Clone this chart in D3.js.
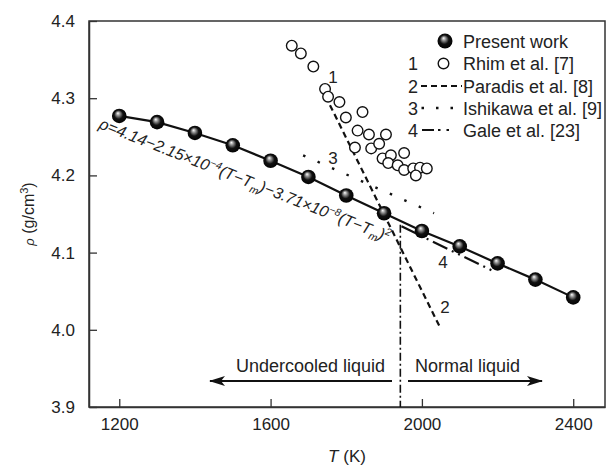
<!DOCTYPE html>
<html>
<head>
<meta charset="utf-8">
<script src="https://cdn.jsdelivr.net/npm/d3@7"></script>
<style>
  body { margin: 0; background: #fff; }
  svg text { font-family: "Liberation Sans", Arial, sans-serif; fill: #222; }
</style>
</head>
<body>
<div id="chart"></div>
<script>
// data
var presentT = [1200, 1300, 1400, 1500, 1600, 1700, 1800, 1900, 2000, 2100, 2200, 2300, 2400];
var presentRho = [4.277, 4.269, 4.255, 4.239, 4.219, 4.198, 4.174, 4.151, 4.128, 4.108, 4.086, 4.065, 4.042];

var rhimT = [1656, 1680, 1713, 1744, 1752, 1782, 1799, 1843, 1830, 1823, 1860, 1905, 1866, 1887,
             1896, 1918, 1953, 1911, 1936, 1953, 1977, 1995, 2013, 1984];
var rhimRho = [4.368, 4.358, 4.341, 4.312, 4.302, 4.295, 4.275, 4.282, 4.258, 4.236, 4.253, 4.253, 4.235, 4.241,
               4.222, 4.226, 4.229, 4.216, 4.213, 4.207, 4.209, 4.210, 4.209, 4.200];

var paradisT = [1757, 2047];
var paradisRho = [4.291, 4.004];
var ishikawaT = [1686, 2032];
var ishikawaRho = [4.226, 4.151];
var galeT = [1946, 2193];
var galeRho = [4.134, 4.075];
var meltT = [1943, 1943];
var meltRho = [4.136, 3.9];

var xTicks = [1200, 1600, 2000, 2400];
var yTicks = [3.9, 4.0, 4.1, 4.2, 4.3, 4.4];

var legendNames = ["Present work", "Rhim et al. [7]", "Paradis et al. [8]", "Ishikawa et al. [9]", "Gale et al. [23]"];
var legendNums = ["", "1", "2", "3", "4"];

var full_w = 609, full_h = 466;
var margin = {top: 21, right: 4, bottom: 59, left: 89};
var width = full_w - margin.left - margin.right;
var height = full_h - margin.top - margin.bottom;

var svg = d3.select("#chart").append("svg")
    .attr("width", full_w)
    .attr("height", full_h);

var defs = svg.append("defs");
var grad = defs.append("radialGradient")
    .attr("id", "ball")
    .attr("cx", "50%").attr("cy", "50%").attr("r", "55%")
    .attr("fx", "40%").attr("fy", "30%");
grad.append("stop").attr("offset", "0%").attr("stop-color", "#fff");
grad.append("stop").attr("offset", "22%").attr("stop-color", "#999");
grad.append("stop").attr("offset", "55%").attr("stop-color", "#111");
grad.append("stop").attr("offset", "100%").attr("stop-color", "#000");

defs.append("marker")
    .attr("id", "arrow")
    .attr("viewBox", "0 0 16 10")
    .attr("refX", 15).attr("refY", 5)
    .attr("markerWidth", 16).attr("markerHeight", 10)
    .attr("markerUnits", "userSpaceOnUse")
    .attr("orient", "auto")
    .append("path")
    .attr("d", "M0,0 L16,5 L0,10 L4,5 Z")
    .attr("fill", "#111");

var g = svg.append("g")
    .attr("transform", "translate(" + margin.left + "," + margin.top + ")");

var x = d3.scaleLinear().domain([1120, 2484]).range([0, width]);
var y = d3.scaleLinear().domain([3.9, 4.4]).range([height, 0]);

// frame
g.append("rect")
    .attr("width", width).attr("height", height)
    .attr("fill", "none").attr("stroke", "#333").attr("stroke-width", 1.5);

var xAxis = g.append("g")
    .attr("transform", "translate(0," + height + ")")
    .call(d3.axisBottom(x).tickValues(xTicks).tickFormat(d3.format("d"))
          .tickSizeInner(-8).tickSizeOuter(0).tickPadding(11));
var yAxis = g.append("g")
    .call(d3.axisLeft(y).tickValues(yTicks).tickFormat(d3.format(".1f"))
          .tickSizeInner(-8).tickSizeOuter(0).tickPadding(14));
[xAxis, yAxis].forEach(function(a) {
  a.select(".domain").attr("stroke", "#333").attr("stroke-width", 1.5);
  a.selectAll(".tick line").attr("stroke", "#333").attr("stroke-width", 1.3);
  a.selectAll(".tick text").attr("font-size", 17).attr("fill", "#222")
    .attr("font-family", "Liberation Sans, Arial, sans-serif");
});

// axis titles
g.append("text")
    .attr("x", width / 2).attr("y", height + 55)
    .attr("text-anchor", "middle").attr("font-size", 17)
    .html('<tspan font-style="italic">T</tspan> (K)');
g.append("text")
    .attr("transform", "translate(" + (-55) + "," + (height / 2) + ") rotate(-90)")
    .attr("text-anchor", "middle").attr("font-size", 16)
    .html('<tspan font-style="italic" font-size="13">ρ</tspan> (g/cm<tspan dy="-6" font-size="11">3</tspan><tspan dy="6">)</tspan>');

function pts(ts, rs) { return ts.map(function(t, i) { return [t, rs[i]]; }); }
var line = d3.line().x(function(d) { return x(d[0]); }).y(function(d) { return y(d[1]); });

// melting point (dash-dot vertical)
g.append("path").datum(pts(meltT, meltRho)).attr("d", line)
    .attr("fill", "none").attr("stroke", "#111").attr("stroke-width", 1.6)
    .attr("stroke-dasharray", "8,3,2,3");

// Paradis
g.append("path").datum(pts(paradisT, paradisRho)).attr("d", line)
    .attr("fill", "none").attr("stroke", "#111").attr("stroke-width", 2.2)
    .attr("stroke-dasharray", "6,4");
// Ishikawa
g.append("path").datum(pts(ishikawaT, ishikawaRho)).attr("d", line)
    .attr("fill", "none").attr("stroke", "#111").attr("stroke-width", 2.4)
    .attr("stroke-dasharray", "2.5,13.3");
// Gale
g.append("path").datum(pts(galeT, galeRho)).attr("d", line)
    .attr("fill", "none").attr("stroke", "#111").attr("stroke-width", 2.2)
    .attr("stroke-dasharray", "16,5,2,5,2,5");

// Rhim open circles
g.selectAll(".rhim").data(pts(rhimT, rhimRho)).enter().append("circle")
    .attr("class", "rhim")
    .attr("cx", function(d) { return x(d[0]); })
    .attr("cy", function(d) { return y(d[1]); })
    .attr("r", 5.3)
    .attr("fill", "#fff").attr("stroke", "#111").attr("stroke-width", 1.4);

// Present work
g.append("path").datum(pts(presentT, presentRho)).attr("d", line)
    .attr("fill", "none").attr("stroke", "#111").attr("stroke-width", 2.2);
g.selectAll(".present").data(pts(presentT, presentRho)).enter().append("circle")
    .attr("class", "present")
    .attr("cx", function(d) { return x(d[0]); })
    .attr("cy", function(d) { return y(d[1]); })
    .attr("r", 7.3)
    .attr("fill", "url(#ball)");

// line labels
var lineLabels = [["1", 333, 83], ["2", 445, 313], ["3", 333, 164], ["4", 443, 268]];
lineLabels.forEach(function(l) {
  svg.append("text").attr("x", l[1]).attr("y", l[2])
      .attr("text-anchor", "middle").attr("font-size", 17).text(l[0]);
});

// fitted equation
svg.append("text")
    .attr("transform", "translate(98,128) rotate(21.5)")
    .attr("font-size", 16).attr("font-style", "italic").attr("fill", "#333")
    .html('ρ=4.14−2.15×10<tspan dy="-6" font-size="10.5">−4</tspan><tspan dy="6">(T−T</tspan>' +
          '<tspan dy="4" font-size="10.5">m</tspan><tspan dy="-4">)−3.71×10</tspan>' +
          '<tspan dy="-6" font-size="10.5">−8</tspan><tspan dy="6">(T−T</tspan>' +
          '<tspan dy="4" font-size="10.5">m</tspan><tspan dy="-4">)</tspan>' +
          '<tspan dy="-6" font-size="10.5">2</tspan>');

// undercooled / normal arrows
svg.append("line").attr("x1", 392).attr("y1", 381).attr("x2", 210).attr("y2", 381)
    .attr("stroke", "#111").attr("stroke-width", 2.2).attr("marker-end", "url(#arrow)");
svg.append("line").attr("x1", 408).attr("y1", 381).attr("x2", 542).attr("y2", 381)
    .attr("stroke", "#111").attr("stroke-width", 2.2).attr("marker-end", "url(#arrow)");
svg.append("text").attr("x", 385).attr("y", 372).attr("text-anchor", "end")
    .attr("font-size", 18).text("Undercooled liquid");
svg.append("text").attr("x", 415).attr("y", 372)
    .attr("font-size", 18).text("Normal liquid");

// legend
var lg = svg.append("g").attr("transform", "translate(0,0)");
var rowY = [41, 63.5, 86, 108, 130];
legendNames.forEach(function(name, i) {
  lg.append("text").attr("x", 463).attr("y", rowY[i] + 6.5)
      .attr("font-size", 18).text(name);
  if (legendNums[i]) {
    lg.append("text").attr("x", 413).attr("y", rowY[i] + 6.5)
        .attr("text-anchor", "middle").attr("font-size", 18).text(legendNums[i]);
  }
});
lg.append("circle").attr("cx", 445).attr("cy", rowY[0]).attr("r", 7.5).attr("fill", "url(#ball)");
lg.append("circle").attr("cx", 443.5).attr("cy", rowY[1]).attr("r", 5.3)
    .attr("fill", "#fff").attr("stroke", "#111").attr("stroke-width", 1.4);
lg.append("line").attr("x1", 421).attr("x2", 462).attr("y1", rowY[2]).attr("y2", rowY[2])
    .attr("stroke", "#111").attr("stroke-width", 2.2).attr("stroke-dasharray", "6,4");
lg.append("line").attr("x1", 421.5).attr("x2", 455).attr("y1", rowY[3]).attr("y2", rowY[3])
    .attr("stroke", "#111").attr("stroke-width", 2.4).attr("stroke-dasharray", "2.5,12");
lg.append("line").attr("x1", 422).attr("x2", 452).attr("y1", rowY[4]).attr("y2", rowY[4])
    .attr("stroke", "#111").attr("stroke-width", 2.2).attr("stroke-dasharray", "12,4,2.5,6,2.5,10");
</script>
</body>
</html>
